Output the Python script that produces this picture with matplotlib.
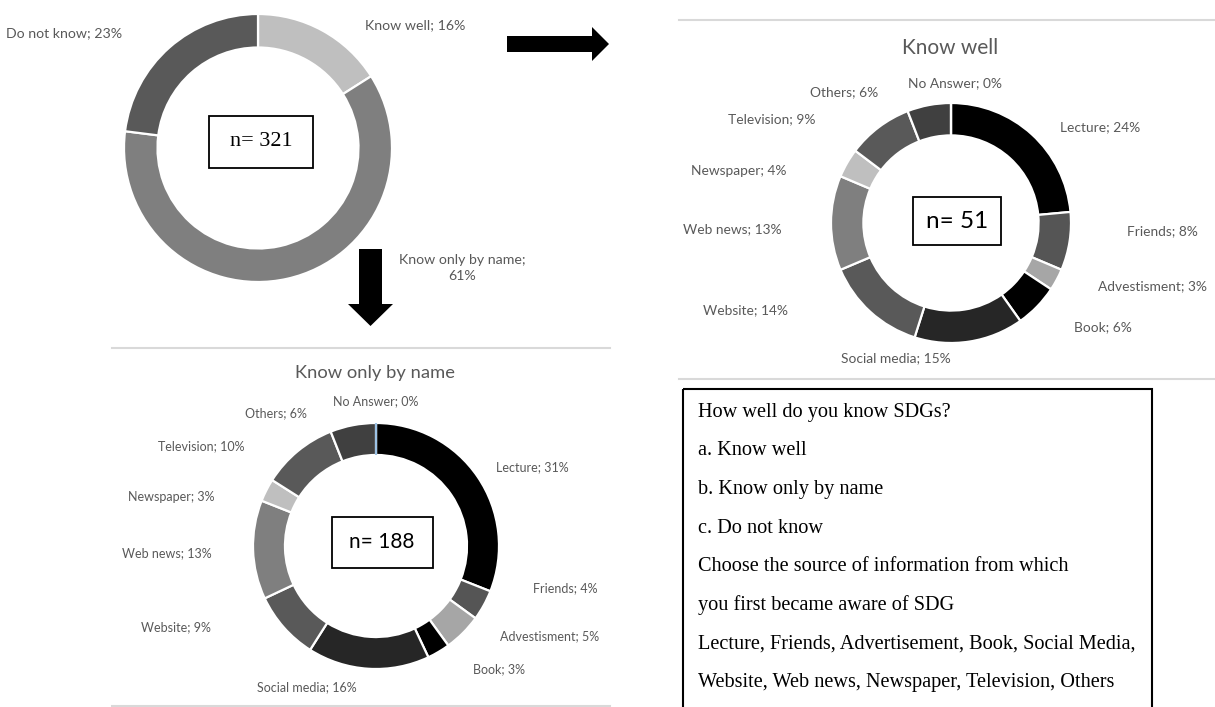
import matplotlib
matplotlib.use("Agg")
import matplotlib.pyplot as plt
from matplotlib.patches import Rectangle, FancyArrow

W, H = 1215, 707
SANS = ["Lato", "DejaVu Sans"]
SERIF = ["Liberation Serif", "DejaVu Serif"]
GREY_TXT = "#595959"
RULE = "#d9d9d9"

# ---- data ----
aware_labels = ["Know well", "Know only by name", "Do not know"]
aware_pct = [16, 61, 23]
aware_colors = ["#bfbfbf", "#7f7f7f", "#595959"]
aware_n = 321

sources = ["Lecture", "Friends", "Advestisment", "Book", "Social media", "Website",
           "Web news", "Newspaper", "Television", "Others", "No Answer"]
well_pct = [24, 8, 3, 6, 15, 14, 13, 4, 9, 6, 0]
well_n = 51
name_pct = [31, 4, 5, 3, 16, 9, 13, 3, 10, 6, 0]
name_n = 188
source_colors = ["#000000", "#555555", "#a6a6a6", "#000000", "#262626", "#595959",
                 "#7f7f7f", "#bfbfbf", "#595959", "#404040", "#9dc3e6"]

question_lines = ["How well do you know SDGs?",
                  "a. Know well",
                  "b. Know only by name",
                  "c. Do not know",
                  "Choose the source of information from which",
                  "you first became aware of SDG",
                  "Lecture, Friends, Advertisement, Book, Social Media,",
                  "Website, Web news, Newspaper, Television, Others"]

# label anchors, pixel offsets from the ring centre (right, up) + alignment
aware_lab_pos = [(107, 123, "left"), (204, -120, "center"), (-136, 115, "right")]
well_lab_pos = [(109, 96, "left"), (176, -8, "left"), (147, -63, "left"), (123, -104, "left"),
                (-55, -135, "center"), (-163, -87, "right"), (-169, -6, "right"),
                (-164, 52, "right"), (-136, 104, "right"), (-73, 131, "right"), (4, 140, "center")]
name_lab_pos = [(120, 79, "left"), (157, -42, "left"), (124, -90, "left"), (97, -123, "left"),
                (-69, -141, "center"), (-165, -81, "right"), (-164, -7, "right"),
                (-162, 49, "right"), (-131, 100, "right"), (-69, 133, "right"), (0, 145, "center")]

fig = plt.figure(figsize=(W / 100, H / 100), dpi=100)
fig.patch.set_facecolor("white")

# pixel-space overlay for rules, arrows, boxes
ov = fig.add_axes([0, 0, 1, 1])
ov.set_xlim(0, W); ov.set_ylim(H, 0); ov.axis("off")


def pct_label(name, v, wrap=False):
    return f"{name};\n{v}%" if wrap else f"{name}; {v}%"


def donut(cx, cy, r, vals, names, colors, lab_pos, fs, inner=0.74, wrap=()):
    ax = fig.add_axes([(cx - r) / W, 1 - (cy + r) / H, 2 * r / W, 2 * r / H])
    wedges, _ = ax.pie(vals, colors=colors, startangle=90, counterclock=False, radius=1,
                       wedgeprops=dict(width=1 - inner, edgecolor="white", linewidth=1.6))
    ax.set_xlim(-1, 1); ax.set_ylim(-1, 1); ax.set_aspect("auto"); ax.axis("off")
    for name, v, (dx, dy, ha) in zip(names, vals, lab_pos):
        ax.text(dx / r, dy / r, pct_label(name, v, name in wrap), ha=ha, va="center",
                fontsize=fs, color=GREY_TXT, family=SANS, clip_on=False, linespacing=1.45)
    return wedges


def n_box(cx, cy, w, h, txt, fs, family):
    ov.add_patch(Rectangle((cx - w / 2, cy - h / 2), w, h, fc="white", ec="black", lw=1.3, zorder=5))
    ov.text(cx, cy, txt, ha="center", va="center", fontsize=fs, family=family, color="black", zorder=6)


# top left: overall awareness
donut(258, 148, 134, aware_pct, aware_labels, aware_colors, aware_lab_pos, 10.2,
      inner=0.75, wrap=("Know only by name",))
n_box(261, 142, 104, 52, f"n= {aware_n}", 16, SERIF)

# top right: know well
ov.plot([679, W], [20, 20], color=RULE, lw=1.5)
ov.plot([679, W], [379, 379], color=RULE, lw=1.5)
ov.text(950, 48, "Know well", ha="center", va="center", fontsize=15, color=GREY_TXT, family=SANS)
well_colors = source_colors[:-1] + ["#404040"]
donut(951, 223, 120, well_pct, sources, well_colors, well_lab_pos, 9.9, inner=0.73)
n_box(957, 221, 88, 48, f"n= {well_n}", 17.5, SANS)

# bottom left: know only by name
ov.plot([112, 610], [348, 348], color=RULE, lw=1.5)
ov.plot([112, 610], [706, 706], color=RULE, lw=1.5)
ov.text(375, 373, "Know only by name", ha="center", va="center", fontsize=13.2, color=GREY_TXT, family=SANS)
wd = donut(376, 546, 123, name_pct, sources, source_colors, name_lab_pos, 9, inner=0.74)
# zero-width "No Answer" slice shows as a thin blue spoke
wd[-1].set_edgecolor(source_colors[-1]); wd[-1].set_linewidth(1.5); wd[-1].set_zorder(3)
n_box(382, 542, 101, 51, f"n= {name_n}", 15, SANS)

# arrows linking the panels
ov.add_patch(FancyArrow(507, 44, 102, 0, width=16, head_width=34, head_length=17,
                        length_includes_head=True, fc="black", ec="black", lw=0))
ov.add_patch(FancyArrow(370.5, 249, 0, 77, width=23, head_width=45, head_length=22,
                        length_includes_head=True, fc="black", ec="black", lw=0))

# questionnaire box
ov.add_patch(Rectangle((683, 389), 1152 - 683, 340, fc="none", ec="black", lw=1.5))
for i, line in enumerate(question_lines):
    ov.text(698, 412 + i * 38.7, line, ha="left", va="center", fontsize=14.6, family=SERIF, color="black")

fig.savefig("out.png", dpi=100, facecolor="white")
